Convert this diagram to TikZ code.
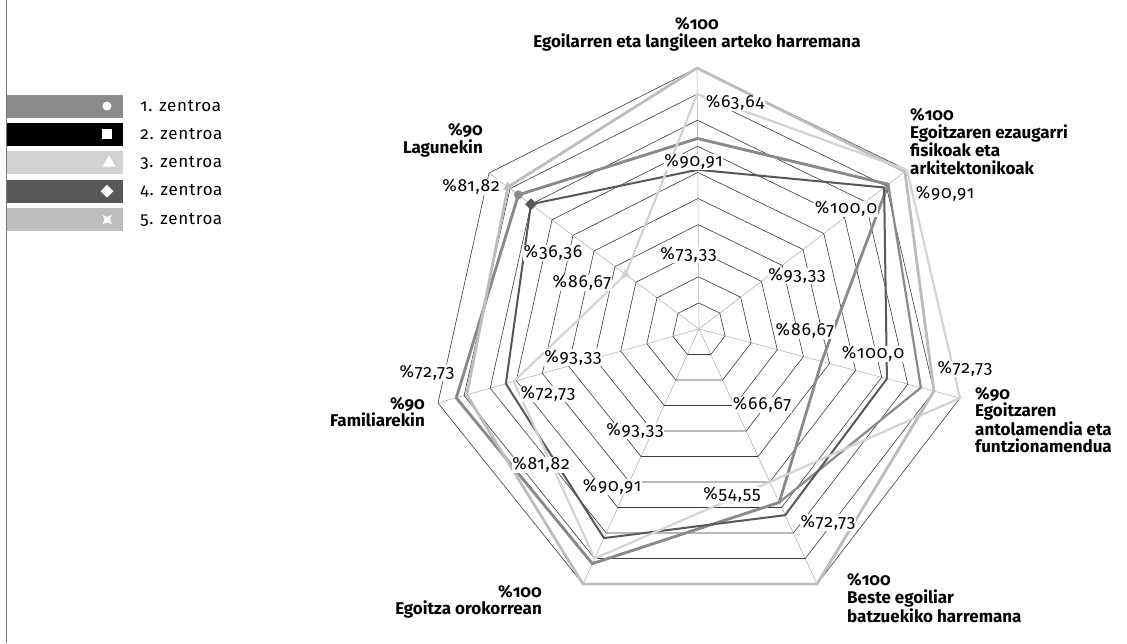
\documentclass[tikz,border=0pt]{standalone}
\usepackage{fontspec}
\setmainfont{Fira Sans}[Numbers=OldStyle]
\usetikzlibrary{calc, positioning, shapes.geometric}

\definecolor{zent1}{HTML}{8A8A8C}
\definecolor{zent2}{HTML}{000000}
\definecolor{zent3}{HTML}{D3D3D5}
\definecolor{zent4}{HTML}{58585A}
\definecolor{zent5}{HTML}{BDBDBF}
\definecolor{ringgray}{HTML}{3A3A3A}
\definecolor{spokegray}{HTML}{B4B4B4}
\definecolor{edgegray}{HTML}{7A7A7A}

% one polygon per centre, values as fractions along the seven axes
\newcommand{\zentroa}[8]{%
  \draw[#1] ($(O)!#2!(A1)$) -- ($(O)!#3!(A2)$) -- ($(O)!#4!(A3)$) -- ($(O)!#5!(A4)$)
    -- ($(O)!#6!(A5)$) -- ($(O)!#7!(A6)$) -- ($(O)!#8!(A7)$) -- cycle;}

\begin{document}
\begin{tikzpicture}[x=1pt,y=-1pt,line join=round,
    legbar/.style={minimum width=116pt,minimum height=23pt,inner sep=0pt},
    legtext/.style={inner sep=0pt,font=\addfontfeatures{LetterSpace=4}\fontsize{17}{20}\selectfont},
    axislab/.style={inner sep=0pt,font=\bfseries\fontsize{17}{17.5}\selectfont},
    val/.style={inner sep=0.5pt,fill=white,font=\addfontfeatures{LetterSpace=5}\fontsize{17.5}{20}\selectfont},
    ring/.style={draw=ringgray,line width=0.6pt},
    spoke/.style={draw=spokegray,line width=0.6pt},
    dot/.style={fill=#1,inner sep=0pt}]
	\useasboundingbox (0,0) rectangle (1127,643);
	\draw[edgegray,line width=1.5pt] (6.5,0) -- (6.5,643);

	% legend
	\node[legbar,fill=zent1] (bar1) at (65,106) {};
	\node[legbar,fill=zent2] (bar2) [below=5pt of bar1] {};
	\node[legbar,fill=zent3] (bar3) [below=5pt of bar2] {};
	\node[legbar,fill=zent4] (bar4) [below=5pt of bar3] {};
	\node[legbar,fill=zent5] (bar5) [below=5pt of bar4] {};
	\node[legtext] (txt1) [right=17pt of bar1] {1. zentroa};
	\node[legtext] (txt2) [right=17pt of bar2] {2. zentroa};
	\node[legtext] (txt3) [right=17pt of bar3] {3. zentroa};
	\node[legtext] (txt4) [right=17pt of bar4] {4. zentroa};
	\node[legtext] (txt5) [right=17pt of bar5] {5. zentroa};
	\node[dot=white,circle,minimum size=9pt] (mk1) [left=11.5pt of bar1.east] {};
	\node[dot=white,minimum size=10pt] (mk2) [left=11pt of bar2.east] {};
	\node[dot=white,regular polygon,regular polygon sides=3,minimum size=15pt] (mk3) [left=9.5pt of bar3.east] {};
	\node[dot=white,diamond,minimum size=13pt] (mk4) [left=9.5pt of bar4.east] {};
	\coordinate[left=16pt of bar5.east] (mk5);
	\fill[white,shift={(mk5)}] (-4.5,-4.5) -- (0,-2.8) -- (4.5,-4.5) -- (2.8,0) -- (4.5,4.5)
		-- (0,2.8) -- (-4.5,4.5) -- (-2.8,0) -- cycle;

	% axes
	\coordinate (O) at (699,329);
	\coordinate (A1) at (697,68);
	\coordinate (A2) at (907,170);
	\coordinate (A3) at (960,398);
	\coordinate (A4) at (817,584);
	\coordinate (A5) at (583,584);
	\coordinate (A6) at (438,403);
	\coordinate (A7) at (489,173);
	\foreach \i in {1,...,7}
		\draw[spoke] (O) -- (A\i);
	\foreach \k in {1,...,10}
		\draw[ring] ($(O)!\k/10!(A1)$) -- ($(O)!\k/10!(A2)$) -- ($(O)!\k/10!(A3)$) -- ($(O)!\k/10!(A4)$)
			-- ($(O)!\k/10!(A5)$) -- ($(O)!\k/10!(A6)$) -- ($(O)!\k/10!(A7)$) -- cycle;

	% centres
	\zentroa{draw=zent1,line width=2.8pt}{.73}{.91}{.47}{.68}{.92}{.93}{.86}
	\zentroa{draw=zent1,line width=2.2pt}{.73}{.91}{.85}{.68}{.92}{.93}{.86}
	\zentroa{draw=zent4,line width=2pt}{.61}{.89}{.72}{.73}{.82}{.74}{.80}
	\zentroa{draw=zent5,line width=2.8pt}{1}{.99}{.90}{1}{1}{.89}{.91}
	\zentroa{draw=zent3,line width=2.2pt}{.90}{1}{1}{.60}{.90}{.71}{.35}
	\node[dot=zent1,circle,minimum size=9pt] (p1) at ($(O)!.86!(A7)$) {};
	\node[dot=zent4,diamond,minimum size=12pt] (p4) at ($(O)!.80!(A7)$) {};
	\node[dot=zent5,regular polygon,regular polygon sides=3,minimum size=11pt] (p5) at ($(O)!.91!(A7)$) {};
	\node[dot=zent3,regular polygon,regular polygon sides=3,minimum size=11pt] (p3) at ($(O)!.35!(A7)$) {};

	% axis labels
	\node[axislab,align=center] (lab1) at (697,34.5) {\%100\\Egoilarren eta langileen arteko harremana};
	\node[axislab,align=left,anchor=west] (lab2) at (910,141.5) {\%100\\Egoitzaren ezaugarri\\fisikoak eta\\arkitektonikoak};
	\node[axislab,align=left,anchor=west] (lab3) at (975,420) {\%90\\Egoitzaren\\antolamendia eta\\funtzionamendua};
	\node[axislab,align=left,anchor=west] (lab4) at (847,598) {\%100\\Beste egoiliar\\batzuekiko harremana};
	\node[axislab,align=right,anchor=east] (lab5) at (542,602) {\%100\\Egoitza orokorrean};
	\node[axislab,align=right,anchor=east] (lab6) at (425,412) {\%90\\Familiarekin};
	\node[axislab,align=right,anchor=east] (lab7) at (483,140.5) {\%90\\Lagunekin};

	% values
	\node[val] (v1a) at (735,103) {\%63,64};
	\node[val] (v1b) at (693.5,162) {\%90,91};
	\node[val] (v1c) at (688.5,255) {\%73,33};
	\node[val] (v2a) at (945,194) {\%90,91};
	\node[val] (v2b) at (846,209) {\%100,0};
	\node[val] (v2c) at (797,276) {\%93,33};
	\node[val] (v3a) at (965,369) {\%72,73};
	\node[val] (v3b) at (873,354) {\%100,0};
	\node[val] (v3c) at (805,331) {\%86,67};
	\node[val] (v4a) at (828,522.5) {\%72,73};
	\node[val] (v4b) at (732,495) {\%54,55};
	\node[val] (v4c) at (762,405) {\%66,67};
	\node[val] (v5a) at (541,465) {\%81,82};
	\node[val] (v5b) at (612,487) {\%90,91};
	\node[val] (v5c) at (635,431) {\%93,33};
	\node[val] (v6a) at (427,372.5) {\%72,73};
	\node[val] (v6b) at (548,394) {\%72,73};
	\node[val] (v6c) at (573,357.5) {\%93,33};
	\node[val] (v7a) at (471,187) {\%81,82};
	\node[val] (v7b) at (553,253) {\%36,36};
	\node[val] (v7c) at (582,283) {\%86,67};
\end{tikzpicture}
\end{document}
